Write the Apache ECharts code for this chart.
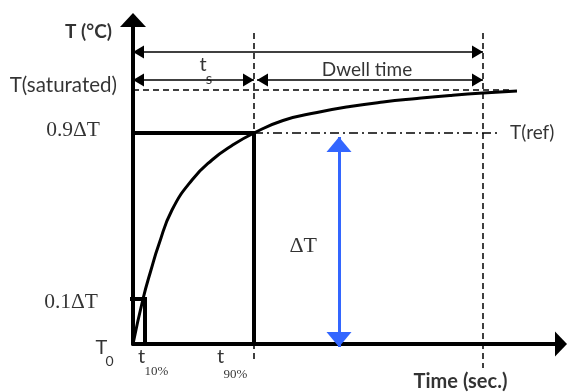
<!DOCTYPE html>
<html>
<head>
<meta charset="utf-8">
<script src="https://cdn.jsdelivr.net/npm/echarts@6/dist/echarts.min.js"></script>
<style>
  html, body { margin: 0; padding: 0; background: #ffffff; }
  #chart { width: 567px; height: 392px; }
</style>
</head>
<body>
<div id="chart"></div>
<script>
// Temperature response curve (arbitrary time / temperature units)
const curveTime = [0, 10, 18, 26, 39, 59, 79, 99, 121, 150, 184, 217, 250, 284, 317, 350, 384];
const curveTemp = [0, 45, 74, 100, 134, 164, 184, 198.5, 211, 223.5, 231.5, 237.5, 242, 245.5, 248.5, 251, 253];

// Characteristic levels: T0, 10 %, 90 % (= T(ref)) and saturation
const levelNames = ['T0', '0.1ΔT', '0.9ΔT', 'T(saturated)'];
const levelValues = [0, 45, 211, 254];

// Characteristic times: t10%, t90% (= ts), end of dwell time
const timeNames = ['t10%', 't90%', 'tEnd'];
const timeValues = [12, 121, 350];

// Extents of the construction lines
const axisMax = [428, 324];
const satLineEnd = 380;
const refLineEnd = 367;
const guideTop = 311;
const guideBottom = [-19, -24];
const spanArrowY = [292, 264];
const dwellStart = 124;
const deltaArrowX = 206;
const deltaArrowEnds = [-3, 207];

const T0 = levelValues[0], T10 = levelValues[1], T90 = levelValues[2], Tsat = levelValues[3];
const t10 = timeValues[0], t90 = timeValues[1], tEnd = timeValues[2];

const BLACK = '#000000';
const BLUE = '#3366ff';
const SANS = 'Lato';
const SERIF = 'Liberation Serif';

// Arrow heads whose tip sits exactly on the line end (square box, tip at its centre)
const thinHeadPath = 'path://M0,0M22,22M11,11L17.5,22L4.5,22Z';
const blueHeadPath = 'path://M0,0M30,30M15,15L27.5,30L2.5,30Z';

const chart = echarts.init(document.getElementById('chart'), null, { renderer: 'canvas' });

function seg(x1, y1, x2, y2) {
  return { coords: [[x1, y1], [x2, y2]] };
}

function anno(value, text, label) {
  return { value: value, label: Object.assign({ show: true, formatter: text, color: BLACK }, label) };
}

const option = {
  animation: false,
  backgroundColor: '#ffffff',
  grid: { left: 133, right: 6, top: 20, bottom: 48, containLabel: false },
  xAxis: {
    type: 'value', min: 0, max: axisMax[0],
    axisLine: { show: true, onZero: false, symbol: ['none', 'triangle'], symbolSize: [25, 12],
      lineStyle: { color: BLACK, width: 4 } },
    axisTick: { show: false }, axisLabel: { show: false }, splitLine: { show: false }
  },
  yAxis: {
    type: 'value', min: 0, max: axisMax[1],
    axisLine: { show: true, onZero: false, symbol: ['none', 'triangle'], symbolSize: [26, 14],
      lineStyle: { color: BLACK, width: 4 } },
    axisTick: { show: false }, axisLabel: { show: false }, splitLine: { show: false }
  },
  series: [
    {
      name: 'dashed guides', type: 'lines', coordinateSystem: 'cartesian2d', clip: false, z: 2,
      lineStyle: { color: BLACK, width: 1.5, type: [6, 4], opacity: 1 },
      data: [
        seg(0, Tsat, satLineEnd, Tsat),
        seg(t90, guideTop, t90, guideBottom[0]),
        seg(tEnd, guideTop, tEnd, guideBottom[1])
      ]
    },
    {
      name: 'T(ref)', type: 'lines', coordinateSystem: 'cartesian2d', clip: false, z: 2,
      lineStyle: { color: BLACK, width: 1.5, type: [9, 4, 2, 4], opacity: 1 },
      data: [seg(t90, T90, refLineEnd, T90)]
    },
    {
      name: 'levels', type: 'lines', coordinateSystem: 'cartesian2d', polyline: true, clip: false, z: 3,
      lineStyle: { color: BLACK, width: 4, opacity: 1, join: 'miter' },
      data: [
        { coords: [[0, T90], [t90, T90], [t90, T0]] },
        { coords: [[-3, T10], [t10, T10], [t10, T0]] }
      ]
    },
    {
      name: 'curve', type: 'line', z: 4,
      data: curveTime.map(function (t, i) { return [t, curveTemp[i]]; }),
      smooth: 0.5, showSymbol: false, clip: false,
      lineStyle: { color: BLACK, width: 3 }
    },
    {
      name: 'spans', type: 'lines', coordinateSystem: 'cartesian2d', clip: false, z: 5,
      symbol: [thinHeadPath, thinHeadPath], symbolSize: 22,
      lineStyle: { color: BLACK, width: 1.5, opacity: 1 },
      data: [
        seg(0, spanArrowY[0], tEnd, spanArrowY[0]),
        seg(0, spanArrowY[1], t90, spanArrowY[1]),
        seg(dwellStart, spanArrowY[1], tEnd, spanArrowY[1])
      ]
    },
    {
      name: 'ΔT', type: 'lines', coordinateSystem: 'cartesian2d', clip: false, z: 5,
      symbol: [blueHeadPath, blueHeadPath], symbolSize: 30,
      lineStyle: { color: BLUE, width: 3, opacity: 1 },
      data: [seg(deltaArrowX, deltaArrowEnds[0], deltaArrowX, deltaArrowEnds[1])]
    },
    {
      name: 'labels', type: 'scatter', symbolSize: 0, z: 6, clip: false, silent: true,
      data: [
        anno([0, axisMax[1]], 'T (°C)', { position: 'left', distance: 21, offset: [0, 12],
          fontFamily: SANS, fontSize: 19, fontWeight: 'bold' }),
        anno([0, Tsat], levelNames[3], { position: 'left', distance: 16, offset: [0, -5],
          fontFamily: SANS, fontSize: 20.5 }),
        anno([0, T90], levelNames[2], { position: 'left', distance: 33, offset: [0, -3],
          fontFamily: SERIF, fontSize: 21.5 }),
        anno([0, T10], levelNames[1], { position: 'left', distance: 35, offset: [0, 3],
          fontFamily: SERIF, fontSize: 21.5 }),
        // T0 with subscript
        anno([0, T0], 'T', { position: 'inside', offset: [-31.5, 4], fontFamily: SANS, fontSize: 20 }),
        anno([0, T0], '0', { position: 'inside', offset: [-23.5, 17], fontFamily: SANS, fontSize: 14 }),
        // t10%
        anno([t10, T0], 't', { position: 'inside', offset: [-3.5, 12.5], fontFamily: SANS, fontSize: 20 }),
        anno([t10, T0], '10%', { position: 'inside', offset: [11.5, 27.5], fontFamily: SERIF, fontSize: 13 }),
        // t90%
        anno([t90, T0], 't', { position: 'inside', offset: [-33.5, 12.5], fontFamily: SANS, fontSize: 20 }),
        anno([t90, T0], '90%', { position: 'inside', offset: [-18.5, 30.5], fontFamily: SERIF, fontSize: 13 }),
        // ts
        anno([t90 / 2, spanArrowY[1]], 't', { position: 'inside', offset: [9.5, -15], fontFamily: SANS, fontSize: 20 }),
        anno([t90 / 2, spanArrowY[1]], 's', { position: 'inside', offset: [15.5, -1], fontFamily: SANS, fontSize: 15 }),
        anno([(dwellStart + tEnd) / 2, spanArrowY[1]], 'Dwell time', { position: 'inside', offset: [-3, -10],
          fontFamily: SANS, fontSize: 19 }),
        anno([refLineEnd, T90], 'T(ref)', { position: 'right', distance: 10,
          fontFamily: SANS, fontSize: 19 }),
        anno([deltaArrowX, T90 / 2], 'ΔT', { position: 'left', distance: 22, offset: [0, 7.5],
          fontFamily: SERIF, fontSize: 22 }),
        anno([tEnd, T0], 'Time (sec.)', { position: 'inside', offset: [-22.5, 38],
          fontFamily: SANS, fontSize: 20, fontWeight: 'bold' })
      ]
    }
  ]
};

chart.setOption(option);
</script>
</body>
</html>
